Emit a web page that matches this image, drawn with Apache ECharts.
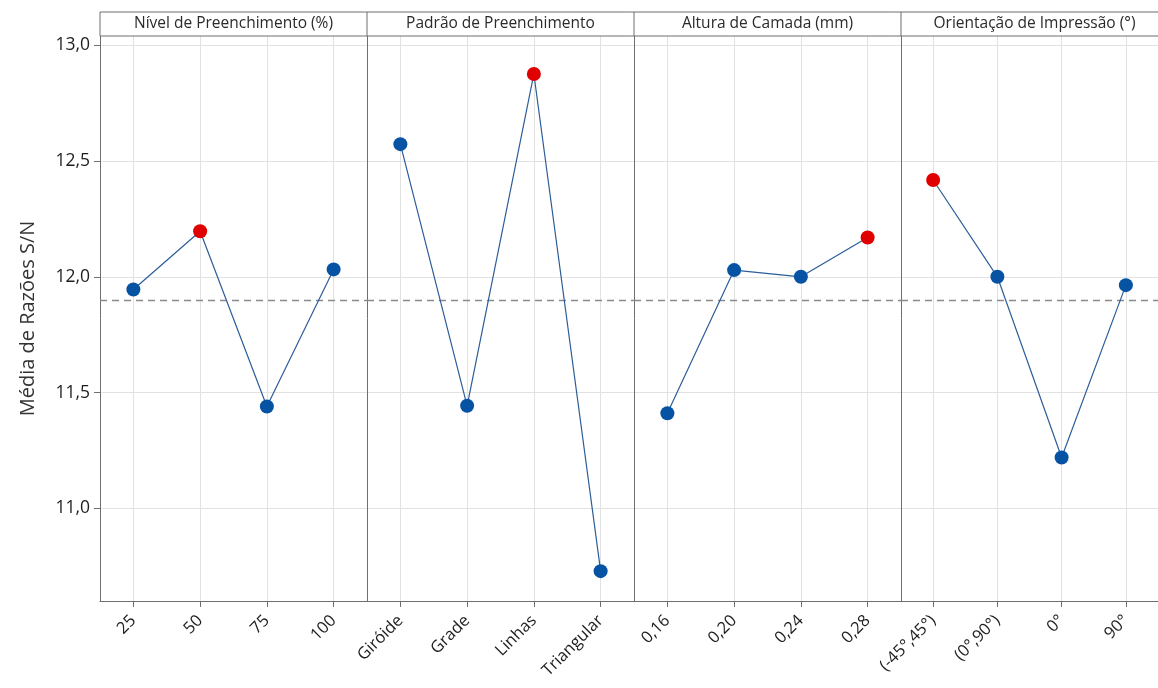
<!DOCTYPE html>
<html>
<head>
<meta charset="utf-8">
<script src="https://cdn.jsdelivr.net/npm/echarts@6/dist/echarts.min.js"></script>
<style>
html,body{margin:0;padding:0;background:#fff;}
#chart{width:1158px;height:688px;}
</style>
</head>
<body>
<div id="chart"></div>
<script>
// ---- data ----
const panelTitles = ['Nível de Preenchimento (%)', 'Padrão de Preenchimento', 'Altura de Camada (mm)', 'Orientação de Impressão (°)'];
const catsNivel = ['25', '50', '75', '100'];
const catsPadrao = ['Giróide', 'Grade', 'Linhas', 'Triangular'];
const catsAltura = ['0,16', '0,20', '0,24', '0,28'];
const catsOrient = ['(-45°,45°)', '(0°,90°)', '0°', '90°'];
const valsNivel = [11.945, 12.197, 11.440, 12.032];
const valsPadrao = [12.573, 11.443, 12.876, 10.729];
const valsAltura = [11.411, 12.029, 12.000, 12.170];
const valsOrient = [12.418, 12.000, 11.220, 11.964];
const grandMean = 11.90;
const yTicks = [11.0, 11.5, 12.0, 12.5, 13.0];
const yMin = 10.6, yMax = 13.04;

const cats = [catsNivel, catsPadrao, catsAltura, catsOrient];
const vals = [valsNivel, valsPadrao, valsAltura, valsOrient];

const FONT = '"Open Sans", "Noto Sans", sans-serif';
const AX = '#6f6f6f';
const GRID = '#e2e2e2';
const BLUE = '#0753a3';
const RED = '#e00000';

const panelLeft = 100, panelW = 267, gTop = 36, gHeight = 565;
const idx = [0, 1, 2, 3];

const grids = idx.map(i => ({ left: panelLeft + panelW * i, top: gTop, width: panelW, height: gHeight, containLabel: false }));

const xAxes = idx.map(i => ({
  type: 'value', gridIndex: i, min: -0.5, max: 3.5,
  axisLine: { show: true, onZero: false, lineStyle: { color: AX, width: 1 } },
  axisTick: { show: true, customValues: [0, 1, 2, 3], length: 6, lineStyle: { color: AX } },
  axisLabel: {
    customValues: [0, 1, 2, 3], rotate: 45, margin: 17,
    formatter: v => cats[i][Math.round(v)],
    fontFamily: FONT, fontSize: 16.5, color: '#1e1e1e'
  },
  splitLine: { show: true, lineStyle: { color: GRID, width: 1 } }
}));

const fmt = v => v.toFixed(1).replace('.', ',');
const yAxes = idx.map(i => ({
  type: 'value', gridIndex: i, min: yMin, max: yMax,
  axisLine: { show: true, onZero: false, lineStyle: { color: AX, width: 1 } },
  axisTick: { show: i === 0, customValues: yTicks, length: 6, lineStyle: { color: AX } },
  axisLabel: { show: i === 0, customValues: yTicks, formatter: fmt, margin: 10, fontFamily: FONT, fontSize: 17.5, color: '#1e1e1e' },
  splitLine: { show: true, lineStyle: { color: GRID, width: 1 } },
  name: i === 0 ? 'Média de Razões S/N' : '',
  nameLocation: 'middle', nameGap: 62,
  nameTextStyle: { fontFamily: FONT, fontSize: 20, color: '#333' }
}));

const series = idx.map(i => {
  const mx = Math.max(...vals[i]);
  return {
    type: 'line', xAxisIndex: i, yAxisIndex: i,
    data: vals[i].map((v, k) => [k, v]),
    symbol: 'circle', symbolSize: 14,
    lineStyle: { color: '#2c5d99', width: 1.2 },
    itemStyle: { color: p => (p.value[1] === mx ? RED : BLUE) },
    z: 5,
    markLine: {
      silent: true, symbol: 'none', label: { show: false },
      lineStyle: { color: '#8a8a8a', type: [7, 5], width: 1.3 },
      data: [{ yAxis: grandMean }]
    },
    animation: false
  };
});

const graphics = [
  { type: 'rect', shape: { x: panelLeft, y: 12, width: panelW * 4, height: gTop - 12 }, style: { fill: '#fff', stroke: AX, lineWidth: 1 }, z: 10 }
];
idx.forEach(i => {
  if (i > 0) graphics.push({ type: 'line', shape: { x1: panelLeft + panelW * i, y1: 12, x2: panelLeft + panelW * i, y2: gTop }, style: { stroke: AX, lineWidth: 1 }, z: 11 });
  graphics.push({
    type: 'text', x: panelLeft + panelW * i + panelW / 2, y: 24, z: 12,
    style: { text: panelTitles[i], fontFamily: FONT, fontSize: 15.5, fill: '#2a2a2a', align: 'center', verticalAlign: 'middle' }
  });
});

const chart = echarts.init(document.getElementById('chart'), null, { renderer: 'canvas' });
chart.setOption({
  animation: false,
  backgroundColor: '#fff',
  grid: grids, xAxis: xAxes, yAxis: yAxes, series: series,
  graphic: graphics
});
</script>
</body>
</html>
